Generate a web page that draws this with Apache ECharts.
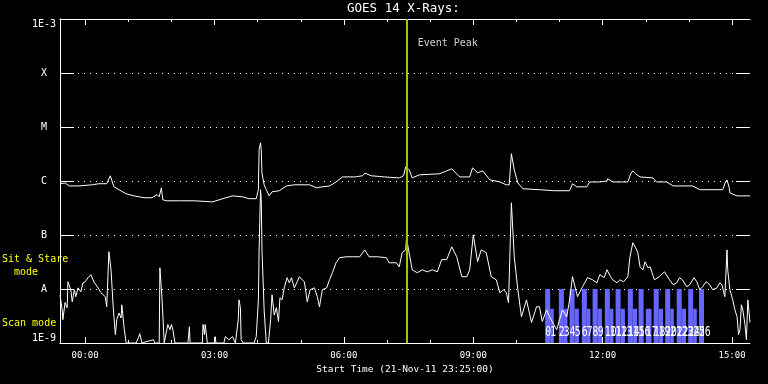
<!DOCTYPE html>
<html><head><meta charset="utf-8">
<script src="https://cdn.jsdelivr.net/npm/echarts@6/dist/echarts.min.js"></script>
<style>html,body{margin:0;padding:0;background:#000}#c{width:768px;height:384px}</style>
</head><body><div id="c"></div>
<script>
// ---- Data (time in minutes since start 21-Nov-11 23:25:00, flux in W/m^2) ----
const longTime = [
 0,7,13,26,45,54,65,70,75,82,
 92,103,117,128,135,138,141,143,148,166,
 187,212,231,240,254,263,273,276,277,279,
 280,281,284,287,291,295,305,315,326,347,
 357,365,375,384,393,410,421,424,433,451,
 472,478,481,483,486,490,500,528,538,545,
 556,570,574,581,588,598,612,621,625,628,
 632,637,644,667,688,709,713,719,733,737,
 751,761,762,769,790,794,797,801,807,825,
 830,844,853,880,890,922,926,928,931,932,
 942,960];
const longFlux = [
 8.9e-7,9.2e-7,8.1e-7,8.1e-7,8.5e-7,8.9e-7,8.9e-7,1.25e-6,7.8e-7,6.9e-7,
 5.8e-7,5.3e-7,4.9e-7,4.9e-7,5.6e-7,5.1e-7,7.5e-7,4.5e-7,4.3e-7,4.3e-7,
 4.3e-7,4.1e-7,4.9e-7,5.3e-7,5.1e-7,4.7e-7,4.7e-7,6.9e-7,3.8e-6,5.1e-6,
 3.8e-6,1.4e-6,8.5e-7,6.9e-7,5.3e-7,6.3e-7,6.6e-7,8.1e-7,8.5e-7,8.5e-7,
 7.5e-7,7.8e-7,8.1e-7,9.6e-7,1.19e-6,1.19e-6,1.25e-6,1.4e-6,1.25e-6,1.19e-6,
 1.14e-6,1.25e-6,1.83e-6,1.9e-6,1.6e-6,1.14e-6,1.3e-6,1.36e-6,1.54e-6,1.68e-6,
 1.19e-6,1.19e-6,1.75e-6,1.42e-6,1.54e-6,1.05e-6,9.6e-7,8.5e-7,8.5e-7,3.2e-6,
 1.6e-6,9.2e-7,7.2e-7,6.9e-7,6.6e-7,6.6e-7,8.9e-7,7.8e-7,7.8e-7,9.6e-7,
 9.6e-7,1.0e-6,1.1e-6,9.6e-7,9.6e-7,1.36e-6,1.54e-6,1.36e-6,1.19e-6,1.14e-6,
 9.6e-7,9.6e-7,8.1e-7,8.1e-7,6.9e-7,6.9e-7,9.6e-7,1.05e-6,7.5e-7,6.0e-7,
 5.3e-7,5.3e-7];

const shortTime = [
 0,3,4,7,10,11,15,17,20,22,
 25,29,32,35,39,43,47,52,57,63,
 65,68,71,74,77,79,82,85,86,89,
 92,106,109,111,114,130,132,138,139,141,
 142,145,150,153,155,157,160,178,180,181,
 198,199,201,202,205,215,216,217,228,230,
 235,240,244,248,249,251,252,255,270,273,
 276,277,279,280,281,284,287,290,293,295,
 298,301,304,306,309,312,316,319,322,326,
 330,333,337,340,344,348,354,358,361,365,
 371,375,379,384,389,398,407,417,424,430,
 442,454,458,468,472,476,481,482,485,490,
 497,504,511,518,525,531,538,545,552,559,
 566,570,575,581,586,593,600,607,612,617,
 621,624,628,632,637,642,649,656,663,667,
 671,677,681,687,691,695,699,705,709,713,
 720,727,734,741,747,751,757,761,766,769,
 775,779,784,790,793,797,801,804,807,811,
 814,818,821,827,834,841,848,853,858,862,
 866,872,876,882,886,890,894,899,904,908,
 914,918,921,925,928,929,932,936,939,942,
 944,946,948,950,953,955,957,960];
const shortFlux = [
 7.8e-9,4.1e-9,2.7e-9,5.6e-9,4.5e-9,1.36e-8,9.7e-9,5.8e-9,9.7e-9,7.2e-9,
 1.05e-8,8.9e-9,1.3e-8,1.36e-8,1.62e-8,1.84e-8,1.36e-8,1.1e-8,8.5e-9,7.2e-9,
 4.7e-9,4.9e-8,2.27e-8,4.7e-9,1.43e-9,2.7e-9,3.6e-9,2.9e-9,5.1e-9,2.0e-9,
 1e-9,1e-9,1.25e-9,1.49e-9,1e-9,1.15e-9,1e-9,1e-9,2.47e-8,2.47e-8,
 6.3e-9,1e-9,2.2e-9,1.76e-9,2.2e-9,1.76e-9,1e-9,1e-9,2.0e-9,1e-9,
 1e-9,2.2e-9,1.43e-9,2.2e-9,1e-9,1e-9,1.31e-9,1e-9,1e-9,1.31e-9,
 1.15e-9,1.31e-9,1e-9,2.7e-9,6.3e-9,4.5e-9,1.15e-9,1e-9,1e-9,1.31e-9,
 6.3e-9,5.3e-8,6.9e-7,4.5e-7,5.3e-8,4.1e-9,1e-9,1e-9,2.7e-9,7.8e-9,
 3.3e-9,4.5e-9,2.5e-9,6.9e-9,6.3e-9,1.05e-8,1.62e-8,1.3e-8,1.62e-8,1.05e-8,
 1.36e-8,1.69e-8,1.48e-8,1.36e-8,5.8e-9,9.7e-9,1.05e-8,7.2e-9,4.7e-9,9.7e-9,
 1.05e-8,1.48e-8,2.0e-8,3.06e-8,3.8e-8,3.95e-8,3.95e-8,3.95e-8,5.3e-8,3.95e-8,
 3.95e-8,3.8e-8,3.06e-8,3.06e-8,2.58e-8,4.7e-8,5.3e-8,8.9e-8,5.3e-8,2.27e-8,
 2.0e-8,2.27e-8,2.08e-8,2.27e-8,2.08e-8,3.5e-8,3.5e-8,6.05e-8,3.95e-8,1.69e-8,
 1.69e-8,2.27e-8,1.01e-7,3.2e-8,5.3e-8,4.7e-8,1.69e-8,1.48e-8,8.5e-9,9.7e-9,
 8.5e-9,5.6e-9,3.94e-7,3.95e-8,9.7e-9,3.07e-9,6.3e-9,2.4e-9,4.7e-9,4.7e-9,
 2.5e-9,4.1e-9,3.07e-9,2.2e-9,1.76e-9,2.7e-9,4.1e-9,3.07e-9,6.3e-9,1.69e-8,
 7.2e-9,1.1e-8,1.62e-8,1.48e-8,1.3e-8,1.84e-8,1.62e-8,2.27e-8,1.69e-8,1.48e-8,
 1.3e-8,1.48e-8,1.36e-8,1.69e-8,3.95e-8,7.2e-8,5.8e-8,4.7e-8,2.58e-8,2.27e-8,
 3.2e-8,2.47e-8,2.58e-8,1.48e-8,1.69e-8,2.08e-8,1.48e-8,1.2e-8,1.3e-8,1.62e-8,
 1.48e-8,1.1e-8,1.2e-8,1.62e-8,1.36e-8,9.7e-9,1.1e-8,1.36e-8,1.2e-8,9.7e-9,
 1.05e-8,1.3e-8,1.2e-8,7.2e-9,5.3e-8,2.27e-8,9.7e-9,6.3e-9,4.1e-9,3.07e-9,
 1.43e-9,1.76e-9,5.1e-9,4.1e-9,2.2e-9,1.15e-9,6.3e-9,2.4e-9];

// observing mode intervals (numbered 0..26)
const modeStart = [675,682,694,701,709,716,726,733,741,748,758,765,773,780,790,797,805,815,826,833,842,849,858,865,874,881,889];
const modeEnd   = [682,687,701,706,716,722,733,738,748,754,765,770,780,786,797,803,812,823,833,839,849,854,865,871,881,886,896];
const modeKind  = ['stare','scan','stare','scan','stare','scan','stare','scan','stare','scan','stare','scan','stare','scan',
                   'stare','scan','stare','scan','stare','scan','stare','scan','stare','scan','stare','scan','stare'];
const modeLevel = { stare: 1e-8, scan: 4.3e-9 };

const eventPeak = 483;          // minutes after start (07:28)
const eventLabelFlux = 3.6e-4;

const xMajorTicks = [35,215,395,575,755,935];
const xMinorTicks = [35,95,155,215,275,335,395,455,515,575,635,695,755,815,875,935];
const xTickLabels = ['00:00','03:00','06:00','09:00','12:00','15:00'];
const yTickValues = [1e-9,1e-8,1e-7,1e-6,1e-5,1e-4,1e-3];
const yTickLabels = ['1E-9','A','B','C','M','X','1E-3'];

if (longTime.length !== longFlux.length) throw new Error('long mismatch ' + longTime.length + ' ' + longFlux.length);
if (shortTime.length !== shortFlux.length) throw new Error('short mismatch ' + shortTime.length + ' ' + shortFlux.length);

// ---- Chart ----
const FONT = '"DejaVu Sans Mono", "Liberation Mono", monospace';
const YMIN = 1e-9, YMAX = 1e-3;
const Y_TICK_LEN = 14;
const chart = echarts.init(document.getElementById('c'), null, {renderer: 'canvas'});

function xAx(pos, len, ticks, withLine, withLabels) {
  const ax = {
    type: 'value', min: 0, max: 960, position: pos, gridIndex: 0,
    axisLine: {show: withLine, lineStyle: {color: '#fff', width: 1}},
    axisTick: {show: true, inside: true, length: len, customValues: ticks, lineStyle: {color: '#fff', width: 1}},
    axisLabel: {show: false},
    splitLine: {show: false}
  };
  if (withLabels) {
    ax.axisLabel = {
      show: true, customValues: xMajorTicks,
      formatter: v => xTickLabels[xMajorTicks.indexOf(Math.round(v))] || '',
      color: '#fff', fontFamily: FONT, fontSize: 9, margin: 8
    };
    ax.name = 'Start Time (21-Nov-11 23:25:00)';
    ax.nameLocation = 'middle';
    ax.nameGap = 21;
    ax.nameTextStyle = {color: '#fff', fontFamily: FONT, fontSize: 9.5};
  }
  return ax;
}

function yAx(pos, withLabels) {
  return {
    type: 'log', logBase: 10, min: YMIN, max: YMAX, position: pos, gridIndex: 0,
    axisLine: {show: true, lineStyle: {color: '#fff', width: 1}},
    axisTick: {show: false},
    axisLabel: withLabels ? {
      show: true, color: '#fff', fontFamily: FONT, fontSize: 10, align: 'center', margin: 16,
      showMinLabel: true, showMaxLabel: true,
      verticalAlignMinLabel: 'bottom', verticalAlignMaxLabel: 'top',
      formatter: v => yTickLabels[Math.round(Math.log10(v)) + 9] || ''
    } : {show: false},
    splitLine: withLabels ? {show: true, lineStyle: {color: '#fff', width: 1, type: [1, 5]}} : {show: false}
  };
}

const modeData = modeStart.map((s, i) => [s, modeEnd[i], modeLevel[modeKind[i]], i]);

const textGraphics = [
  {id: 'sitstare', type: 'text', left: 2, top: 253, style: {text: 'Sit & Stare\n  mode', fill: '#ffff00', font: '10px ' + FONT, lineHeight: 13}},
  {id: 'scan', type: 'text', left: 2, top: 318, style: {text: 'Scan mode', fill: '#ffff00', font: '10px ' + FONT}}
];

const option = {
  backgroundColor: '#000',
  animation: false,
  title: {
    text: 'GOES 14 X-Rays:', left: 347, top: 2, padding: 0,
    textStyle: {color: '#fff', fontFamily: FONT, fontSize: 12.5, fontWeight: 'normal'}
  },
  grid: {left: 60, right: 18, top: 19, bottom: 41, containLabel: false},
  xAxis: [
    xAx('bottom', 6, xMajorTicks, true, true),
    xAx('bottom', 3, xMinorTicks, false, false),
    xAx('top', 6, xMajorTicks, true, false),
    xAx('top', 3, xMinorTicks, false, false)
  ],
  yAxis: [yAx('left', true), yAx('right', false)],
  graphic: textGraphics,
  series: [
    {
      type: 'custom', name: 'modes', xAxisIndex: 0, yAxisIndex: 0, z: 1, silent: true,
      data: modeData, encode: {x: [0, 1], y: 2},
      renderItem: (params, api) => {
        const p0 = api.coord([api.value(0), api.value(2)]);
        const p1 = api.coord([api.value(1), YMIN]);
        return {type: 'rect', shape: {x: p0[0], y: p0[1], width: p1[0] - p0[0], height: p1[1] - p0[1]},
                style: {fill: '#6666ff'}};
      }
    },
    {
      type: 'line', name: 'long', xAxisIndex: 0, yAxisIndex: 0, z: 2,
      data: longTime.map((t, i) => [t, longFlux[i]]),
      showSymbol: false, symbol: 'none', lineStyle: {color: '#fff', width: 1}
    },
    {
      type: 'line', name: 'short', xAxisIndex: 0, yAxisIndex: 0, z: 2,
      data: shortTime.map((t, i) => [t, shortFlux[i]]),
      showSymbol: false, symbol: 'none', lineStyle: {color: '#fff', width: 1}
    },
    {
      type: 'custom', name: 'modeNumbers', xAxisIndex: 0, yAxisIndex: 0, z: 3, silent: true,
      data: modeData, encode: {x: 0, y: 2},
      renderItem: (params, api) => {
        const p = api.coord([api.value(0), YMIN]);
        return {type: 'text', x: p[0], y: p[1] - 11, scaleX: 0.7,
                style: {text: String(api.value(3)), fill: '#fff', font: '14px ' + FONT, align: 'left', verticalAlign: 'middle'}};
      }
    },
    {
      type: 'scatter', name: 'event', xAxisIndex: 0, yAxisIndex: 0, z: 4, silent: true,
      data: [[eventPeak, eventLabelFlux]], symbolSize: 1, itemStyle: {color: 'rgba(0,0,0,0)'},
      label: {show: true, position: 'right', distance: 10, formatter: 'Event Peak', color: '#fff', fontFamily: FONT, fontSize: 10},
      markLine: {
        silent: true, symbol: 'none', label: {show: false}, z: 5,
        lineStyle: {color: '#99cc00', width: 2, type: 'solid'},
        data: [{xAxis: eventPeak}]
      }
    }
  ]
};
chart.setOption(option);

// Inward y-axis tick marks on both sides, placed through the axis scales
const xLeft = chart.convertToPixel({xAxisIndex: 0}, 0);
const xRight = chart.convertToPixel({xAxisIndex: 0}, 960);
const tickGraphics = [];
yTickValues.slice(1, -1).forEach((v, i) => {
  const y = Math.round(chart.convertToPixel({yAxisIndex: 0}, v)) + 0.5;
  tickGraphics.push({id: 'tl' + i, type: 'line', silent: true, z: 10,
    shape: {x1: xLeft, y1: y, x2: xLeft + Y_TICK_LEN, y2: y}, style: {stroke: '#fff', lineWidth: 1}});
  tickGraphics.push({id: 'tr' + i, type: 'line', silent: true, z: 10,
    shape: {x1: xRight - Y_TICK_LEN, y1: y, x2: xRight, y2: y}, style: {stroke: '#fff', lineWidth: 1}});
});
chart.setOption({graphic: textGraphics.concat(tickGraphics)});
</script>
</body></html>
